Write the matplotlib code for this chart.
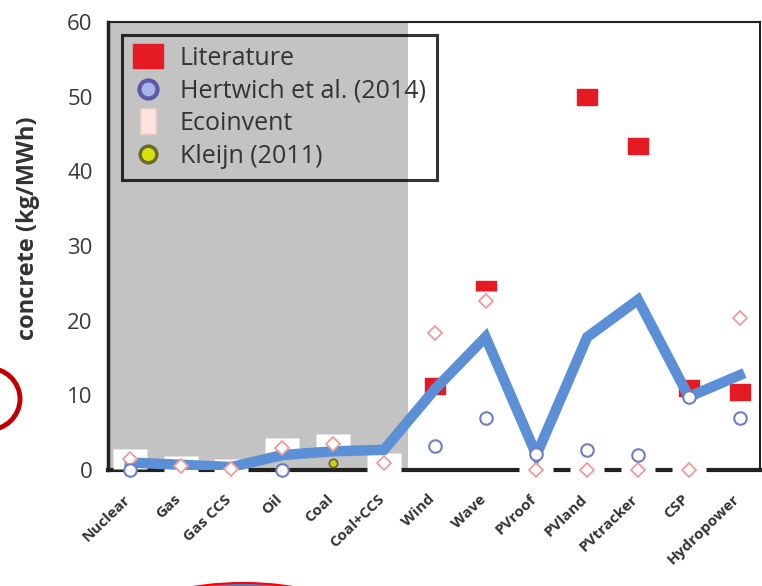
import numpy as np
import matplotlib
matplotlib.use('Agg')
import matplotlib.pyplot as plt
from matplotlib.patches import Ellipse
from matplotlib.transforms import IdentityTransform, ScaledTranslation

nan = np.nan
techs = ['Nuclear', 'Gas', 'Gas CCS', 'Oil', 'Coal', 'Coal+CCS', 'Wind', 'Wave',
         'PVroof', 'PVland', 'PVtracker', 'CSP', 'Hydropower']
average = [1.0, 0.7, 0.4, 2.0, 2.5, 2.7, 10.8, 17.8, 2.0, 17.8, 22.8, 9.8, 12.7]
literature = [nan, nan, nan, nan, nan, nan, 11.3, 24.2, nan, 50.0, 43.4, 11.0, 10.4]
hertwich = [0.0, nan, nan, 0.0, nan, nan, 3.2, 7.0, 2.2, 2.7, 2.0, 9.8, 7.0]
ecoinvent = [1.5, 0.6, 0.2, 3.0, 3.5, 1.0, 18.3, 22.7, 0.0, 0.0, 0.0, 0.0, 20.3]
kleijn = [nan, nan, nan, nan, 1.0, nan, nan, nan, nan, nan, nan, nan, nan]

plt.rcParams['font.family'] = ['Open Sans', 'DejaVu Sans']

fig = plt.figure(figsize=(7.62, 5.86), dpi=100)
ax = fig.add_axes([108 / 762, 116 / 586, 652 / 762, 448 / 586])
x = np.arange(len(techs))

ax.axvspan(-0.5, 5.47, color='#c3c3c3', zorder=0, lw=0)

rect = [(-1, -0.8), (1, -0.8), (1, 0.8), (-1, 0.8), (-1, -0.8)]
wbox = [(-1, -0.55), (1, -0.55), (1, 0.55), (-1, 0.55), (-1, -0.55)]

ax.plot(x, literature, ls='none', marker=rect, ms=15, color='#e51a22',
        mec='#e51a22', zorder=3)
# white boxes behind the ecoinvent diamonds
ax.plot(x, ecoinvent, ls='none', marker=wbox, ms=25, mfc='white', mec='none',
        zorder=4, clip_on=False)
ax.plot(x, average, color='#5b8fd6', lw=7.5, zorder=5, solid_joinstyle='miter')
ax.plot(x, ecoinvent, ls='none', marker='D', ms=7, mfc='white', mec='#f29a9a',
        mew=1.3, zorder=6, clip_on=False)
ax.plot(x, hertwich, ls='none', marker='o', ms=9, mfc='white', mec='#6d7ec4',
        mew=1.5, zorder=6, clip_on=False)
ax.plot(x, kleijn, ls='none', marker='o', ms=6, mfc='#c8d21e', mec='#6b6020',
        mew=1.2, zorder=6, clip_on=False)

# legend handles
h_lit = ax.plot([], [], ls='none', marker=rect, ms=21, color='#e51a22')[0]
h_her = ax.plot([], [], ls='none', marker='o', ms=13, mfc='#a9b4e6', mec='#5b5aa8', mew=3)[0]
h_eco = ax.plot([], [], ls='none', marker=[(-0.6, -1), (0.6, -1), (0.6, 1), (-0.6, 1), (-0.6, -1)],
                ms=18, mfc='#fbe4de', mec='#f6d0c8', mew=1.2)[0]
h_kle = ax.plot([], [], ls='none', marker='o', ms=12, mfc='#d6e00c', mec='#6b6a2a', mew=2.5)[0]
leg = ax.legend([h_lit, h_her, h_eco, h_kle],
                ['Literature', 'Hertwich et al. (2014)', 'Ecoinvent', 'Kleijn (2011)'],
                loc='upper left', bbox_to_anchor=(0.0215, 0.971), borderaxespad=0,
                fontsize=18, frameon=True, fancybox=False, edgecolor='black',
                handlelength=1.15, handletextpad=0.7, labelspacing=0.3,
                borderpad=0.45, labelcolor='#333333')
leg.get_frame().set_facecolor('none')
leg.get_frame().set_linewidth(2.2)
leg.set_zorder(10)

ax.set_xlim(-0.43, 12.4)
ax.set_ylim(0, 60)
ax.set_yticks([0, 10, 20, 30, 40, 50, 60])
ax.tick_params(axis='y', length=0, pad=11, labelsize=16, labelcolor='#3a3a3a')
ax.set_xticks(x)
ax.set_xticklabels(techs, rotation=44, ha='right', rotation_mode='anchor',
                   fontsize=11, fontweight='bold', color='#333333')
ax.tick_params(axis='x', length=0, pad=16)
shift = ScaledTranslation(-5 / 72, 0, fig.dpi_scale_trans)
for lbl in ax.get_xticklabels():
    lbl.set_transform(lbl.get_transform() + shift)

for s in ax.spines.values():
    s.set_linewidth(1.5)
    s.set_color('#222222')
ax.spines['bottom'].set_linewidth(3)
ax.spines['left'].set_linewidth(2.5)

ax.set_ylabel('concrete (kg/MWh)', fontsize=17, fontweight='bold', color='#333333')
ax.yaxis.set_label_coords(-0.105, 0.54)

# red annotation marks from the source screenshot
fig.add_artist(Ellipse((-12, 586 - 399), 64, 62, fill=False, ec='#c00000', lw=3.5,
                       transform=IdentityTransform()))
fig.add_artist(Ellipse((243, 586 - 613), 200, 60, fc='#5a78c0', ec='#ff0000', lw=1.5,
                       transform=IdentityTransform()))

fig.savefig('out.png', dpi=100)
